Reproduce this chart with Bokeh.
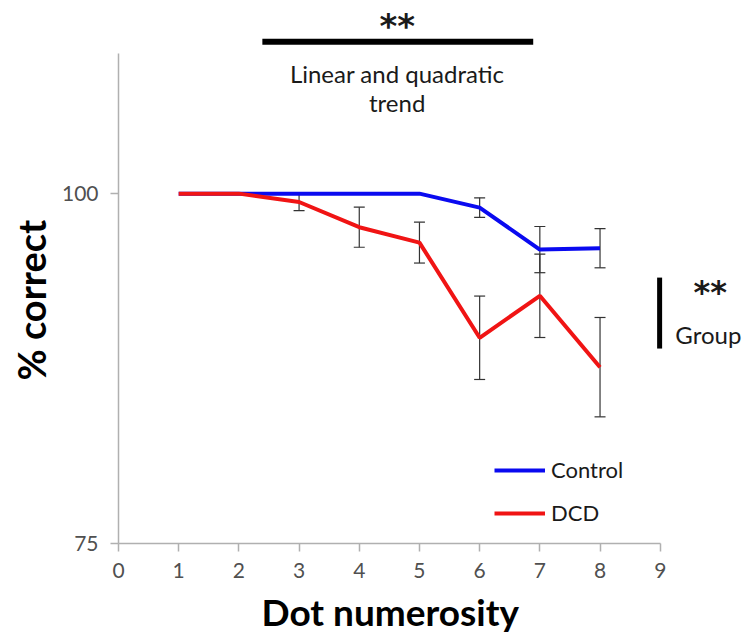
from bokeh.plotting import figure
from bokeh.models import (Range1d, FixedTicker, Whisker, TeeHead, ColumnDataSource,
                          Legend, LegendItem, Title)
from bokeh.core.properties import value
from bokeh.embed import file_html
from bokeh.resources import INLINE

numerosity = [1, 2, 3, 4, 5, 6, 7, 8]
control = [100, 100, 100, 100, 100, 99.0, 96.0, 96.1]
control_err = [0, 0, 0, 0, 0, 0.7, 1.65, 1.4]
dcd = [100, 100, 99.4, 97.6, 96.5, 89.7, 92.7, 87.6]
dcd_err = [0, 0, 0.62, 1.43, 1.46, 2.98, 2.98, 3.55]
x_ticks = [0, 1, 2, 3, 4, 5, 6, 7, 8, 9]
y_ticks = [75, 100]
series_names = ["Control", "DCD"]
x_title = "Dot numerosity"
y_title = "% correct"

FONT = "Lato"
STAR_FONT = "DejaVu Sans"
BLUE = "#0A0AF0"
RED = "#F01414"
TXT = "#1A1A1A"

p = figure(width=747, height=643, output_backend="svg", toolbar_location=None,
           x_range=Range1d(0, 10.45), y_range=Range1d(75, 113.8),
           min_border_left=118, min_border_right=0, min_border_top=0, min_border_bottom=100)
p.outline_line_color = None
p.grid.grid_line_color = None
p.background_fill_color = "white"

# axes
p.xaxis.ticker = FixedTicker(ticks=x_ticks)
p.yaxis.ticker = FixedTicker(ticks=y_ticks)
p.xaxis.bounds = (0, 9)
p.yaxis.bounds = (75, 110)
for ax in (p.xaxis, p.yaxis):
    ax.axis_line_color = "#B0B0B0"
    ax.axis_line_width = 1.5
    ax.major_tick_line_color = "#B0B0B0"
    ax.major_tick_line_width = 1.5
    ax.major_tick_out = 8
    ax.major_tick_in = 0
    ax.minor_tick_line_color = None
    ax.major_label_text_font = FONT
    ax.major_label_text_font_size = "21px"
    ax.major_label_text_color = "#505050"
p.xaxis.major_label_standoff = 11
p.yaxis.major_label_standoff = 12

# axis titles, placed as side-panel titles so they can sit off the frame centre
p.add_layout(Title(text=x_title, align="left", offset=143, standoff=12,
                   text_font=FONT, text_font_style="bold", text_font_size="37px",
                   text_color="black"), "below")
p.add_layout(Title(text=y_title, align="left", offset=163, standoff=10,
                   text_font=FONT, text_font_style="bold", text_font_size="38px",
                   text_color="black"), "left")

# data sources
src_c = ColumnDataSource(dict(x=numerosity, y=control))
src_d = ColumnDataSource(dict(x=numerosity, y=dcd))

# error bars
for vals, errs in ((control, control_err), (dcd, dcd_err)):
    idx = [i for i, e in enumerate(errs) if e > 0]
    sub = ColumnDataSource(dict(x=[numerosity[i] for i in idx],
                                lo=[vals[i] - errs[i] for i in idx],
                                hi=[vals[i] + errs[i] for i in idx]))
    w = Whisker(base="x", lower="lo", upper="hi", source=sub,
                line_color="#333333", line_width=1.2,
                upper_head=TeeHead(size=11, line_color="#333333", line_width=1.2),
                lower_head=TeeHead(size=11, line_color="#333333", line_width=1.2))
    p.add_layout(w)

r_c = p.line("x", "y", source=src_c, line_color=BLUE, line_width=4)
r_d = p.line("x", "y", source=src_d, line_color=RED, line_width=4)

legend = Legend(items=[LegendItem(label=series_names[0], renderers=[r_c]),
                       LegendItem(label=series_names[1], renderers=[r_d])],
                location=(376, 17), padding=0, margin=0, spacing=16,
                glyph_width=51, glyph_height=26, label_height=26, label_standoff=6,
                label_text_font=FONT, label_text_font_size="22px",
                label_text_color=TXT,
                border_line_color=None, background_fill_alpha=0)
p.add_layout(legend)

# trend annotation
p.line([2.39, 6.89], [110.86, 110.86], line_color="black", line_width=6)
p.text([4.63], [111.95], text=["**"], text_font=value(STAR_FONT), text_font_size="34px",
       text_font_style="bold", text_align="center", text_baseline="middle", text_color=TXT)
p.text([4.63], [108.57], text=["Linear and quadratic"], text_font=value(FONT),
       text_font_size="24px", text_align="center", text_baseline="middle", text_color=TXT)
p.text([4.63], [106.5], text=["trend"], text_font=value(FONT),
       text_font_size="24px", text_align="center", text_baseline="middle", text_color=TXT)

# group annotation
p.line([8.99, 8.99], [94.0, 88.93], line_color="black", line_width=5)
p.text([9.83], [93.0], text=["**"], text_font=value(STAR_FONT), text_font_size="32px",
       text_font_style="bold", text_align="center", text_baseline="middle", text_color=TXT)
p.text([9.80], [89.9], text=["Group"], text_font=value(FONT), text_font_size="24px",
       text_align="center", text_baseline="middle", text_color=TXT)

open("out.html", "w").write(file_html(p, INLINE))
